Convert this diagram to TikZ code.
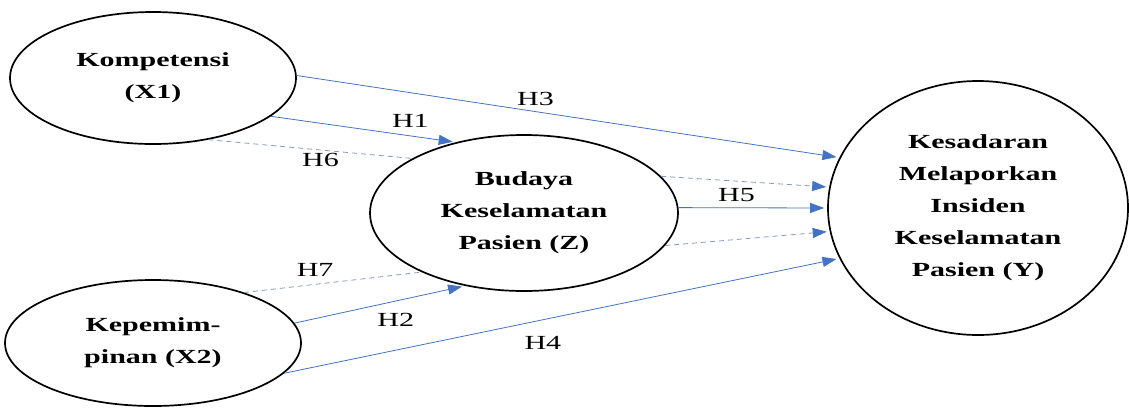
\documentclass[tikz,border=0pt]{standalone}
\usepackage{fontspec}
\setmainfont{Liberation Serif}[FakeStretch=1.5]
\usepackage{tikz}
\usetikzlibrary{arrows.meta, positioning, shapes.geometric}
\usepackage{xcolor}
\definecolor{pathblue}{HTML}{4472C4}
\definecolor{dashblue}{HTML}{8499C0}

\begin{document}
\begin{tikzpicture}[x=1pt,y=-1pt,shorten >=3pt,on grid]
    \tikzstyle{latent}=[shape=ellipse,draw,line width=1.7pt,inner sep=0pt,align=center,font=\bfseries\fontsize{20}{32}\selectfont]
    \tikzstyle{direct}=[pathblue,line width=0.8pt,-{Triangle[length=14pt,width=10pt]}]
    \tikzstyle{indirect}=[dashblue,line width=0.8pt,dash pattern=on 5pt off 4pt]
    \tikzstyle{hyp}=[black,inner sep=1pt,font=\fontsize{20}{24}\selectfont]

    \useasboundingbox (0,0) rectangle (1129,408);

    \node[latent, minimum width=286pt, minimum height=132pt] (X1) at (153,78) {Kompetensi\\(X1)};
    \node[latent, minimum width=296pt, minimum height=126pt, below=265pt of X1] (X2) {Kepemim-\\pinan (X2)};
    \node[latent, minimum width=308pt, minimum height=156pt, below right=135pt and 371pt of X1] (Z) {Budaya\\Keselamatan\\Pasien (Z)};
    \node[latent, minimum width=300pt, minimum height=254pt, above right=5pt and 454pt of Z] (Y) {Kesadaran\\Melaporkan\\Insiden\\Keselamatan\\Pasien (Y)};

    \path[direct]
    (X1.1) edge node[hyp, pos=0.44, above=5pt] {H3} (Y.160)
    (X1.-18) edge node[hyp, pos=0.755, above=7pt] {H1} (Z.134)
    (X2.8) edge node[hyp, pos=0.594, below=11pt] {H2} (Z.231)
    (X2.-13) edge node[hyp, pos=0.466, below=15pt] {H4} (Y.200)
    (Z.2) edge node[hyp, pos=0.39, above=5pt] {H5} (Y.180)
    ;
    \path[indirect, shorten >=0pt]
    (X1.-48) edge node[hyp, pos=0.55, below=2pt] {H6} (Z.154)
    (X2.29) edge node[hyp, pos=0.40, above=6pt] {H7} (Z.-150)
    ;
    \path[indirect, -{Triangle[length=14pt,width=10pt,color=pathblue]}]
    (Z.15) edge (Y.172)
    (Z.-13) edge (Y.189)
    ;
\end{tikzpicture}
\end{document}
